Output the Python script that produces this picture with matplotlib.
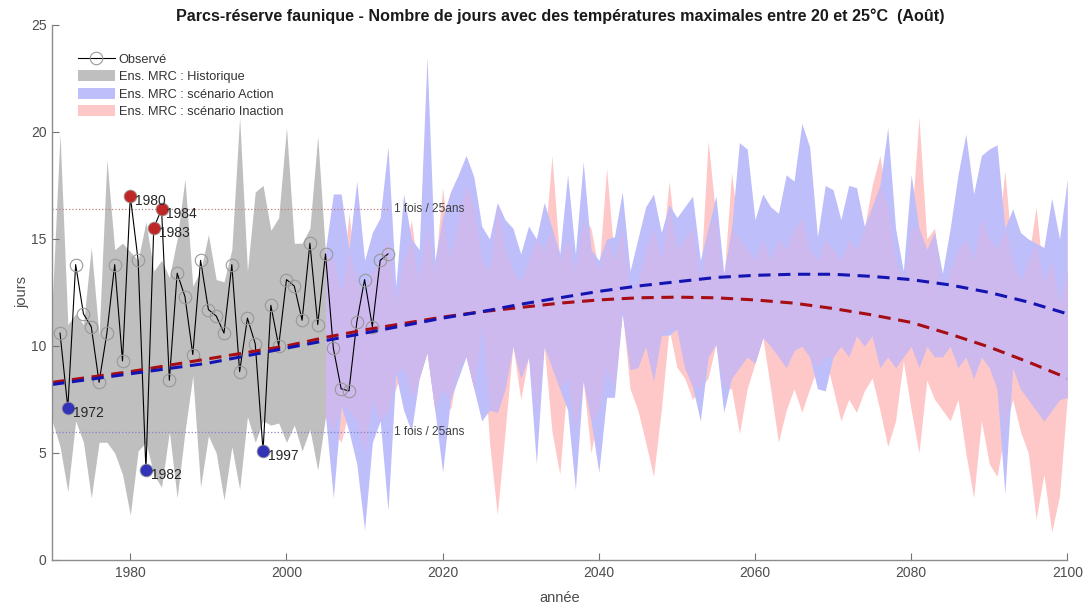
import numpy as np
import matplotlib
matplotlib.use("Agg")
import matplotlib.pyplot as plt
from matplotlib.lines import Line2D
from matplotlib.patches import Patch

plt.rcParams['font.family'] = ['Liberation Sans', 'DejaVu Sans']

# ---------------- data ----------------
obs_years = list(range(1971, 2014))
obs_values = [10.6, 7.1, 13.8, 11.5, 10.9, 8.3, 10.6, 13.8, 9.3, 17.0,
              14.0, 4.2, 15.5, 16.4, 8.4, 13.4, 12.3, 9.6, 14.0, 11.7,
              11.4, 10.6, 13.8, 8.8, 11.3, 10.1, 5.1, 11.9, 10.0, 13.1,
              12.8, 11.2, 14.8, 11.0, 14.3, 9.9, 8.0, 7.9, 11.1, 13.1,
              10.9, 14.0, 14.3]

high_years = [1980, 1983, 1984]
high_values = [17.0, 15.5, 16.4]
low_years = [1972, 1982, 1997]
low_values = [7.1, 4.2, 5.1]

hist_years = list(range(1970, 2006))
hist_upper = [12.0, 19.9, 11.0, 11.5, 11.0, 14.6, 10.5, 18.7, 14.5, 14.8,
              14.4, 14.0, 15.8, 13.5, 14.0, 13.2, 15.0, 17.8, 12.8, 13.5,
              15.2, 13.1, 13.0, 14.5, 20.7, 13.5, 17.2, 17.5, 15.4, 16.0,
              20.2, 14.8, 14.8, 15.5, 19.8, 14.3]
hist_lower = [6.5, 5.3, 3.2, 6.5, 5.5, 2.9, 5.5, 5.5, 5.0, 4.0,
              2.1, 5.1, 5.5, 4.0, 3.4, 6.0, 2.9, 6.0, 8.6, 3.4,
              5.8, 5.0, 2.8, 5.3, 3.3, 6.7, 5.5, 6.5, 6.3, 6.4,
              5.5, 6.3, 5.1, 6.1, 4.2, 6.7]

scen_years = list(range(2005, 2101))
action_upper = [14.5, 17.1, 17.1, 14.5, 17.7, 14.0, 15.3, 16.0, 19.3, 12.8,
                17.1, 15.0, 14.5, 23.5, 14.0, 16.0, 17.2, 18.0, 18.9, 17.9,
                15.6, 15.0, 16.7, 15.9, 15.5, 14.3, 15.6, 15.0, 16.7, 15.5,
                14.3, 18.0, 14.3, 18.6, 14.5, 14.0, 15.0, 15.1, 17.2, 13.5,
                15.0, 16.5, 17.1, 15.3, 16.6, 16.0, 16.5, 17.0, 14.0, 15.5,
                17.0, 13.4, 15.5, 19.5, 19.2, 15.9, 17.1, 16.5, 16.2, 18.0,
                17.7, 20.4, 19.3, 15.1, 17.5, 17.3, 15.9, 17.5, 17.4, 15.6,
                16.5, 17.5, 20.2, 15.5, 13.5, 18.0, 15.5, 14.5, 15.3, 13.4,
                15.5, 18.0, 19.9, 17.1, 18.9, 19.2, 19.4, 15.5, 16.4, 15.3,
                15.0, 14.8, 14.6, 16.9, 15.0, 17.8]
action_lower = [6.7, 2.9, 7.2, 6.0, 4.5, 1.4, 5.5, 6.5, 2.3, 8.7,
                7.0, 6.0, 8.5, 9.7, 7.0, 4.1, 7.5, 8.5, 9.5, 8.0,
                6.5, 7.0, 6.9, 8.0, 10.0, 8.5, 9.5, 4.5, 10.0, 9.0,
                8.0, 7.0, 3.3, 8.4, 6.5, 4.1, 7.6, 7.6, 11.5, 8.9,
                9.0, 10.0, 8.4, 10.5, 10.5, 10.8, 9.0, 8.1, 6.5, 9.5,
                10.1, 6.9, 8.5, 9.0, 9.5, 9.2, 10.4, 10.0, 9.5, 9.0,
                9.8, 10.0, 9.5, 8.0, 7.9, 9.5, 10.0, 9.5, 10.5, 10.0,
                10.5, 9.0, 9.5, 9.0, 9.5, 10.0, 9.0, 10.0, 9.5, 9.5,
                10.0, 9.0, 9.5, 8.5, 9.5, 9.0, 8.0, 3.1, 9.0, 8.0,
                7.5, 7.0, 6.5, 7.0, 7.5, 7.6]
inaction_upper = [14.3, 14.0, 12.5, 16.2, 13.0, 12.5, 13.5, 14.0, 15.0, 12.0,
                  14.0, 15.9, 13.0, 15.5, 13.5, 17.4, 14.0, 16.0, 17.5, 16.5,
                  14.0, 13.5, 16.6, 14.5, 13.5, 13.0, 14.0, 15.0, 14.5, 18.9,
                  14.0, 15.0, 13.5, 16.0, 15.5, 13.5, 18.3, 14.0, 15.5, 12.5,
                  13.0, 14.5, 15.5, 14.0, 17.7, 14.5, 15.0, 15.5, 13.0, 19.6,
                  16.0, 13.0, 18.1, 15.0, 14.5, 14.0, 15.0, 14.0, 15.0, 14.5,
                  15.5, 16.0, 14.5, 14.0, 15.0, 14.5, 14.0, 15.0, 14.5, 15.5,
                  17.5, 18.9, 16.5, 14.0, 13.0, 15.5, 20.7, 15.0, 15.5, 12.5,
                  13.5, 14.5, 15.0, 14.0, 16.0, 15.0, 14.5, 18.2, 14.0, 13.0,
                  14.0, 16.5, 13.0, 14.0, 12.0, 13.5]
inaction_lower = [6.7, 6.0, 5.5, 7.0, 6.5, 5.0, 7.5, 6.5, 7.0, 8.0,
                  9.0, 7.6, 8.5, 9.7, 7.0, 8.0, 7.0, 9.0, 9.5, 8.0,
                  11.0, 5.5, 2.1, 6.0, 10.0, 7.5, 9.5, 7.0, 10.0, 6.0,
                  4.0, 8.5, 6.0, 8.4, 5.0, 7.0, 9.0, 8.0, 11.7, 8.0,
                  7.0, 5.5, 3.9, 7.0, 10.8, 9.0, 8.5, 7.5, 8.0, 8.5,
                  10.1, 8.0, 8.0, 5.9, 8.0, 9.2, 10.4, 8.0, 5.5, 7.0,
                  8.0, 6.9, 8.0, 9.0, 9.5, 8.0, 6.5, 7.5, 6.9, 7.9,
                  8.5, 7.0, 5.3, 6.5, 9.3, 7.0, 5.0, 8.4, 7.5, 7.0,
                  6.5, 7.5, 5.0, 2.9, 6.5, 4.5, 3.9, 6.0, 7.5, 6.0,
                  5.0, 1.9, 4.0, 1.3, 3.0, 7.6]

trend_years = list(range(1970, 2101, 5))
trend_action = [8.2, 8.45, 8.7, 8.95, 9.2, 9.55, 9.9, 10.25, 10.6, 10.95,
                11.3, 11.6, 11.95, 12.25, 12.55, 12.8, 13.0, 13.2, 13.3, 13.35,
                13.35, 13.25, 13.1, 12.85, 12.5, 12.05, 11.5]
trend_inaction = [8.3, 8.55, 8.8, 9.1, 9.4, 9.7, 10.0, 10.4, 10.75, 11.05,
                  11.35, 11.6, 11.8, 12.0, 12.15, 12.25, 12.28, 12.25, 12.15, 12.0,
                  11.75, 11.45, 11.1, 10.55, 9.95, 9.25, 8.5]

rp_high = 16.4
rp_low = 6.0
rp_years = [1970, 2013]
rp_label = "1 fois / 25ans"

# ---------------- colors ----------------
c_gray = (0.75, 0.75, 0.75)
c_blue_band = (190/255, 190/255, 250/255)
c_red_band = (255/255, 200/255, 200/255)
c_overlap = (205/255, 185/255, 238/255)
c_trend_blue = (0.08, 0.08, 0.7)
c_trend_red = (0.65, 0.05, 0.08)
c_text = (0.3, 0.3, 0.3)

fig = plt.figure(figsize=(10.88, 6.08), dpi=100)
ax = fig.add_axes([0.048, 0.079, 0.933, 0.880])

# bands
ax.fill_between(hist_years, hist_lower, hist_upper, color=c_gray, lw=0)
sy = np.array(scen_years)
au, al = np.array(action_upper), np.array(action_lower)
iu, il = np.array(inaction_upper), np.array(inaction_lower)
ax.fill_between(sy, il, iu, color=c_red_band, lw=0)
ax.fill_between(sy, al, au, color=c_blue_band, lw=0)
ov_lo = np.maximum(al, il)
ov_hi = np.minimum(au, iu)
ax.fill_between(sy, ov_lo, ov_hi, where=ov_hi > ov_lo, interpolate=True,
                color=c_overlap, lw=0)

# return period lines
ax.plot(rp_years, [rp_high, rp_high], ls=':', color=(0.75, 0.5, 0.5), lw=0.9)
ax.plot(rp_years, [rp_low, rp_low], ls=':', color=(0.5, 0.5, 0.8), lw=0.9)
ax.text(2013.8, rp_high, rp_label, fontsize=8.6, color=(0.25, 0.25, 0.25), va='center')
ax.text(2013.8, rp_low, rp_label, fontsize=8.6, color=(0.25, 0.25, 0.25), va='center')

# observed
ax.plot(obs_years, obs_values, color='black', lw=0.8, marker='o', ms=9,
        mfc='none', mec=(0.6, 0.6, 0.6), mew=0.8)

# extremes
ax.plot(high_years, high_values, 'o', color=(0.75, 0.15, 0.15), ms=7.5, ls='none')
ax.plot(low_years, low_values, 'o', color=(0.2, 0.2, 0.72), ms=7.5, ls='none')
for yr, v in zip(high_years + low_years, high_values + low_values):
    ax.annotate(str(yr), (yr, v), xytext=(3.5, -3.5), textcoords='offset points',
                fontsize=10, color=(0.15, 0.15, 0.15), va='center', ha='left')

# trend lines
ax.plot(trend_years, trend_inaction, color=c_trend_red, lw=2.2, dashes=(4, 2.5))
ax.plot(trend_years, trend_action, color=c_trend_blue, lw=2.2, dashes=(4, 2.5))

# axes styling
ax.set_xlim(1970, 2100)
ax.set_ylim(0, 25)
ax.set_xticks([1980, 2000, 2020, 2040, 2060, 2080, 2100])
ax.set_yticks([0, 5, 10, 15, 20, 25])
for s in ['top', 'right']:
    ax.spines[s].set_visible(False)
for s in ['left', 'bottom']:
    ax.spines[s].set_color((0.55, 0.55, 0.55))
    ax.spines[s].set_linewidth(1.0)
ax.tick_params(direction='in', length=5, color=(0.45, 0.45, 0.45),
               labelsize=10, labelcolor=c_text, pad=4)
ax.set_xlabel("année", fontsize=10.5, color=c_text, labelpad=8)
ax.set_ylabel("jours", fontsize=10.5, color=c_text, labelpad=1.5)
ax.set_title("Parcs-réserve faunique - Nombre de jours avec des températures maximales entre 20 et 25°C  (Août)",
             fontsize=11.6, fontweight='bold', pad=3, color=(0.1, 0.1, 0.1))

handles = [
    Line2D([], [], color='black', lw=0.8, marker='o', ms=9, mfc='none',
           mec=(0.6, 0.6, 0.6), mew=0.8),
    Patch(facecolor=c_gray, edgecolor='none'),
    Patch(facecolor=c_blue_band, edgecolor='none'),
    Patch(facecolor=c_red_band, edgecolor='none'),
]
labels = ["Observé", "Ens. MRC : Historique", "Ens. MRC : scénario Action",
          "Ens. MRC : scénario Inaction"]
leg = ax.legend(handles, labels, loc='upper left', bbox_to_anchor=(0.02, 0.957),
                frameon=False, fontsize=9.2, handlelength=2.9, handleheight=0.95,
                labelspacing=0.35, handletextpad=0.3, borderaxespad=0)
for t in leg.get_texts():
    t.set_color((0.2, 0.2, 0.2))

fig.savefig("out.png", dpi=100)
